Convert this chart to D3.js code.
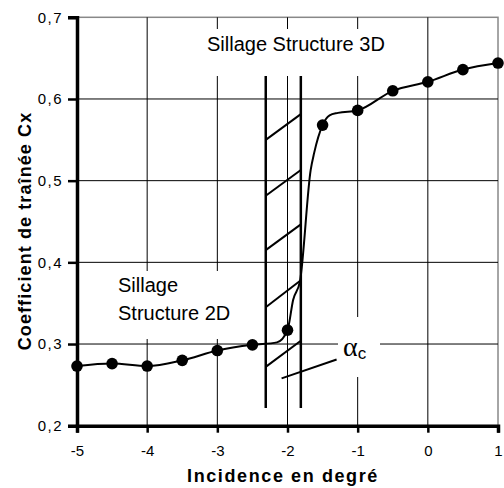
<html>
  <head>
    <meta charset="utf-8">
    <title>Coefficient de traînée Cx</title>
    <script src="https://cdn.jsdelivr.net/npm/d3@7"></script>
    <style>
      body { margin: 0; background: #fff; }
      text { font-family: "Liberation Sans", Arial, sans-serif; }
    </style>
  </head>
  <body>
    <svg width="504" height="488"></svg>
    <script>

      // measured points (markers)
      var incidence = [-5, -4.5, -4, -3.5, -3, -2.5, -2, -1.5, -1, -0.5, 0, 0.5, 1]
      var cx        = [0.273, 0.276, 0.273, 0.280, 0.292, 0.299, 0.317, 0.568, 0.586, 0.610, 0.621, 0.636, 0.644]

      // drawn trace (includes the jump at alpha c)
      var traceX = [-5, -4.5, -4, -3.5, -3, -2.5, -2.15, -2, -1.92, -1.82, -1.67, -1.62, -1.5, -1.4, -1.28, -1, -0.5, 0, 0.5, 1]
      var traceY = [0.273, 0.276, 0.273, 0.280, 0.292, 0.299, 0.302, 0.317, 0.354, 0.378, 0.513, 0.534, 0.568, 0.580, 0.583, 0.586, 0.610, 0.621, 0.636, 0.644]

      var xTicks = [-5, -4, -3, -2, -1, 0, 1]
      var yTicks = [0.2, 0.3, 0.4, 0.5, 0.6, 0.7]

      // hatched transition band
      var bandX = [-2.31, -1.81]
      var bandY = [0.2217, 0.628]
      var hatchLeft  = [0.550, 0.4815, 0.415, 0.345, 0.272]
      var hatchRight = [0.5815, 0.513, 0.4465, 0.378, 0.304]
      var leaderX = [-2.084, -1.30]
      var leaderY = [0.258, 0.281]

      var svg = d3.select('svg')
      var x = d3.scaleLinear().domain([-5, 1]).range([77, 498])
      var y = d3.scaleLinear().domain([0.2, 0.7]).range([425.7, 17.3])

      // frame + grid
        svg.append('rect')
          .attr('x', x(-5)).attr('y', y(0.7))
          .attr('width', x(1) - x(-5)).attr('height', y(0.2) - y(0.7))
          .attr('fill', 'none').attr('stroke', '#888').attr('stroke-width', 1.5)

        svg.append('g').selectAll('line')
          .data(xTicks.filter(function(d){ return d > -5 && d < 1 }))
          .enter().append('line')
          .attr('x1', x).attr('x2', x)
          .attr('y1', y(0.7)).attr('y2', y(0.2))
          .attr('stroke', '#000').attr('stroke-width', 1)

        svg.append('g').selectAll('line')
          .data(yTicks.filter(function(d){ return d > 0.2 && d < 0.7 }))
          .enter().append('line')
          .attr('x1', x(-5)).attr('x2', x(1))
          .attr('y1', y).attr('y2', y)
          .attr('stroke', '#000').attr('stroke-width', 1)

      // white boxes behind the annotations
        svg.append('rect').attr('x', 200).attr('y', 29).attr('width', 195).attr('height', 47).attr('fill', '#fff')
        svg.append('rect').attr('x', 112).attr('y', 271).attr('width', 128).attr('height', 68).attr('fill', '#fff')
        svg.append('rect').attr('x', 338).attr('y', 317).attr('width', 42).attr('height', 60).attr('fill', '#fff')

        svg.append('text').attr('x', 207).attr('y', 51)
          .attr('font-size', 20).text('Sillage Structure 3D')
        svg.append('text').attr('x', 118).attr('y', 292)
          .attr('font-size', 20).text('Sillage')
        svg.append('text').attr('x', 118).attr('y', 320)
          .attr('font-size', 20).text('Structure 2D')

        var alpha = svg.append('text').attr('x', 343).attr('y', 356)
        alpha.append('tspan').attr('font-family', '"Liberation Serif", "DejaVu Serif", serif')
          .attr('font-size', 28).text('α')
        alpha.append('tspan').attr('font-size', 17).attr('dy', 3).text('c')

      // hatched band
        svg.append('g').selectAll('line')
          .data(bandX).enter().append('line')
          .attr('x1', x).attr('x2', x)
          .attr('y1', y(bandY[1])).attr('y2', y(bandY[0]))
          .attr('stroke', '#000').attr('stroke-width', 2.5)

        svg.append('g').selectAll('line')
          .data(d3.range(hatchLeft.length)).enter().append('line')
          .attr('x1', x(bandX[0])).attr('x2', x(bandX[1]))
          .attr('y1', function(i){ return y(hatchLeft[i]) })
          .attr('y2', function(i){ return y(hatchRight[i]) })
          .attr('stroke', '#000').attr('stroke-width', 2)

        svg.append('line')
          .attr('x1', x(leaderX[0])).attr('x2', x(leaderX[1]))
          .attr('y1', y(leaderY[0])).attr('y2', y(leaderY[1]))
          .attr('stroke', '#000').attr('stroke-width', 2)

      // axes
        var yAxis = d3.axisLeft(y).tickValues(yTicks).tickSizeOuter(0).tickSize(9).tickPadding(5)
          .tickFormat(function(d){ return d.toFixed(1).replace('.', ',') })
        var gy = svg.append('g').attr('transform', 'translate(' + x(-5) + ',0)').call(yAxis)

        var xAxis = d3.axisBottom(x).tickValues(xTicks).tickSizeOuter(0).tickSize(7).tickPadding(13)
          .tickFormat(function(d){ return d3.format('d')(d).replace('−', '-') })
        var gx = svg.append('g').attr('transform', 'translate(0,' + y(0.2) + ')').call(xAxis)

        svg.selectAll('.domain').attr('stroke', '#000').attr('stroke-width', 3.5)
        svg.selectAll('.tick line').attr('stroke', '#000').attr('stroke-width', 2.5)
        svg.selectAll('.tick text').attr('fill', '#000').attr('font-size', 15)
          .attr('font-family', '"Liberation Sans", Arial, sans-serif')
        gy.selectAll('.tick text').attr('letter-spacing', 1.5)

      // curve and markers
        var pts = traceX.map(function(d, i){ return [d, traceY[i]] })
        svg.append('path')
          .attr('d', d3.line().x(function(d){ return x(d[0]) }).y(function(d){ return y(d[1]) })
            .curve(d3.curveMonotoneX)(pts))
          .attr('fill', 'none').attr('stroke', '#000').attr('stroke-width', 2)

        svg.append('g').selectAll('circle')
          .data(incidence).enter().append('circle')
          .attr('cx', x)
          .attr('cy', function(d, i){ return y(cx[i]) })
          .attr('r', 5.8).attr('fill', '#000')

      // axis titles
        svg.append('text')
          .attr('x', 283).attr('y', 482).attr('text-anchor', 'middle')
          .attr('font-size', 18).attr('font-weight', 'bold').attr('letter-spacing', 1.6)
          .text('Incidence en degré')

        svg.append('text')
          .attr('transform', 'translate(31,231) rotate(-90)').attr('text-anchor', 'middle')
          .attr('font-size', 18).attr('font-weight', 'bold').attr('letter-spacing', 1.1)
          .text('Coefficient de traînée Cx')

    </script>
  </body>
</html>
